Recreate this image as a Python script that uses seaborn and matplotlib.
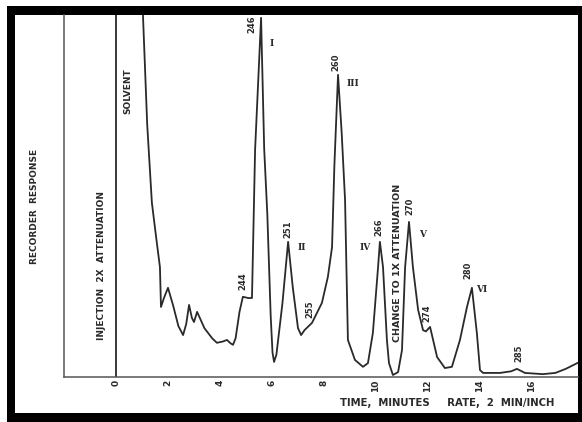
import numpy as np
import pandas as pd
import seaborn as sns
import matplotlib.pyplot as plt
from matplotlib.patches import Rectangle

# chromatogram trace (time in minutes, recorder response in chart divisions)
time_min = [0.0, 0.0, 1.0, 1.0, 1.2, 1.38, 1.55, 1.69, 1.73, 1.85, 2.0, 2.2, 2.4,
            2.58, 2.7, 2.81, 2.92, 3.0, 3.12, 3.4, 3.7, 3.88, 4.1, 4.27, 4.4, 4.5,
            4.6, 4.75, 4.88, 5.08, 5.23, 5.35, 5.58, 5.7, 5.82, 5.95, 6.02, 6.08,
            6.17, 6.4, 6.62, 6.8, 7.0, 7.12, 7.25, 7.54, 7.92, 8.15, 8.31, 8.4,
            8.54, 8.68, 8.81, 8.92, 9.19, 9.5, 9.69, 9.88, 10.08, 10.15, 10.27,
            10.42, 10.5, 10.65, 10.85, 11.0, 11.12, 11.27, 11.42, 11.62, 11.81,
            11.92, 12.08, 12.35, 12.65, 12.92, 13.23, 13.5, 13.69, 13.88, 14.0,
            14.12, 14.77, 15.2, 15.42, 15.73, 16.42, 16.9, 17.3, 17.8]
response = [0.0, 10.0, 10.0, 9.5, 6.2, 4.28, 3.4, 2.7, 1.72, 1.95, 2.19, 1.75, 1.25,
            1.03, 1.3, 1.77, 1.45, 1.35, 1.6, 1.2, 0.95, 0.84, 0.87, 0.91, 0.83, 0.79,
            0.95, 1.6, 1.97, 1.94, 1.94, 5.58, 8.82, 5.6, 4.0, 1.5, 0.6, 0.37,
            0.55, 1.8, 3.32, 2.2, 1.2, 1.03, 1.15, 1.33, 1.82, 2.46, 3.19, 5.2,
            7.42, 6.0, 4.35, 0.91, 0.42, 0.25, 0.34, 1.08, 2.7, 3.32, 2.7,
            0.91, 0.34, 0.05, 0.12, 0.66, 2.7, 3.81, 2.7, 1.65, 1.15,
            1.12, 1.23, 0.49, 0.22, 0.25, 0.91, 1.72, 2.19, 1.08, 0.17,
            0.1, 0.1, 0.14, 0.2, 0.1, 0.07, 0.1, 0.2, 0.36]

peak_labels = ["244", "246", "251", "255", "260", "266", "270", "274", "280", "285"]
peak_label_x = [4.88, 5.23, 6.62, 7.46, 8.46, 10.12, 11.31, 11.96, 13.54, 15.5]
peak_label_y = [2.36, 8.67, 3.64, 1.67, 7.74, 3.69, 4.18, 1.57, 2.63, 0.59]

roman_labels = ["I", "II", "III", "IV", "V", "VI"]
roman_x = [6.0, 7.15, 9.12, 9.58, 11.81, 14.08]
roman_y = [8.2, 3.19, 7.22, 3.17, 3.49, 2.14]

x_ticks = [0, 2, 4, 6, 8, 10, 12, 14, 16]
y_ticks = [1, 2, 3, 4, 5, 6, 7, 8]

trace = pd.DataFrame({"time": time_min, "response": response})

sns.set_style("white")
plt.rcParams["font.family"] = ["DejaVu Sans"]
ink = "#2a2a2a"

fig = plt.figure(figsize=(5.82, 4.22), dpi=100, facecolor="white")
# black photo frame
fig.patches.append(Rectangle((7 / 582, 0), 1 - 7 / 582, 416 / 422, transform=fig.transFigure,
                             facecolor="black", edgecolor="none", zorder=-3))
fig.patches.append(Rectangle((15 / 582, 9 / 422), 563 / 582, 398 / 422, transform=fig.transFigure,
                             facecolor="white", edgecolor="none", zorder=-2))

ax = fig.add_axes([64 / 582, 45 / 422, 514 / 582, 362 / 422])
ax.set_facecolor("none")

sns.lineplot(data=trace, x="time", y="response", sort=False, estimator=None,
             color=ink, linewidth=1.3, ax=ax)
ax.lines[0].set_solid_joinstyle("round")

ax.set_xlim(-2, 17.77)
ax.set_ylim(0, 8.89)
sns.despine(ax=ax, top=True, right=True)
for side in ["left", "bottom"]:
    ax.spines[side].set_color("#555555")
    ax.spines[side].set_linewidth(1.1)

ax.set_xticks(x_ticks)
ax.set_xticklabels([str(t) for t in x_ticks], rotation=90, fontsize=6.5,
                   fontweight="bold", color=ink)
ax.set_yticks(y_ticks)
ax.set_yticklabels([])
ax.tick_params(axis="both", direction="in", length=5, width=1, color="#555555", pad=2)
ax.set_xlabel("")
ax.set_ylabel("")

ax.text(-3.12, 4.18, "RECORDER  RESPONSE", rotation=90, ha="center", va="center",
        fontsize=6.5, fontweight="bold", color=ink, clip_on=False)
ax.text(-0.54, 2.75, "INJECTION  2X  ATTENUATION", rotation=90, ha="center", va="center",
        fontsize=6.5, fontweight="bold", color=ink)
ax.text(0.46, 7.03, "SOLVENT", rotation=90, ha="center", va="center",
        fontsize=6.5, fontweight="bold", color=ink)
ax.text(10.81, 2.8, "CHANGE TO 1X ATTENUATION", rotation=90, ha="center", va="center",
        fontsize=6.8, fontweight="bold", color=ink)

for lab, px, py in zip(peak_labels, peak_label_x, peak_label_y):
    ax.text(px, py, lab, rotation=90, ha="center", va="center", fontsize=6,
            fontweight="bold", color=ink)
for lab, px, py in zip(roman_labels, roman_x, roman_y):
    ax.text(px, py, lab, ha="center", va="center", fontsize=6.5,
            family="DejaVu Serif", fontweight="bold", color=ink)

fig.text(447 / 582, 1 - 403 / 422, "TIME,  MINUTES     RATE,  2  MIN/INCH", ha="center",
         va="center", fontsize=7.3, fontweight="bold", color=ink)

fig.savefig("out.png", dpi=100)
plt.close(fig)
